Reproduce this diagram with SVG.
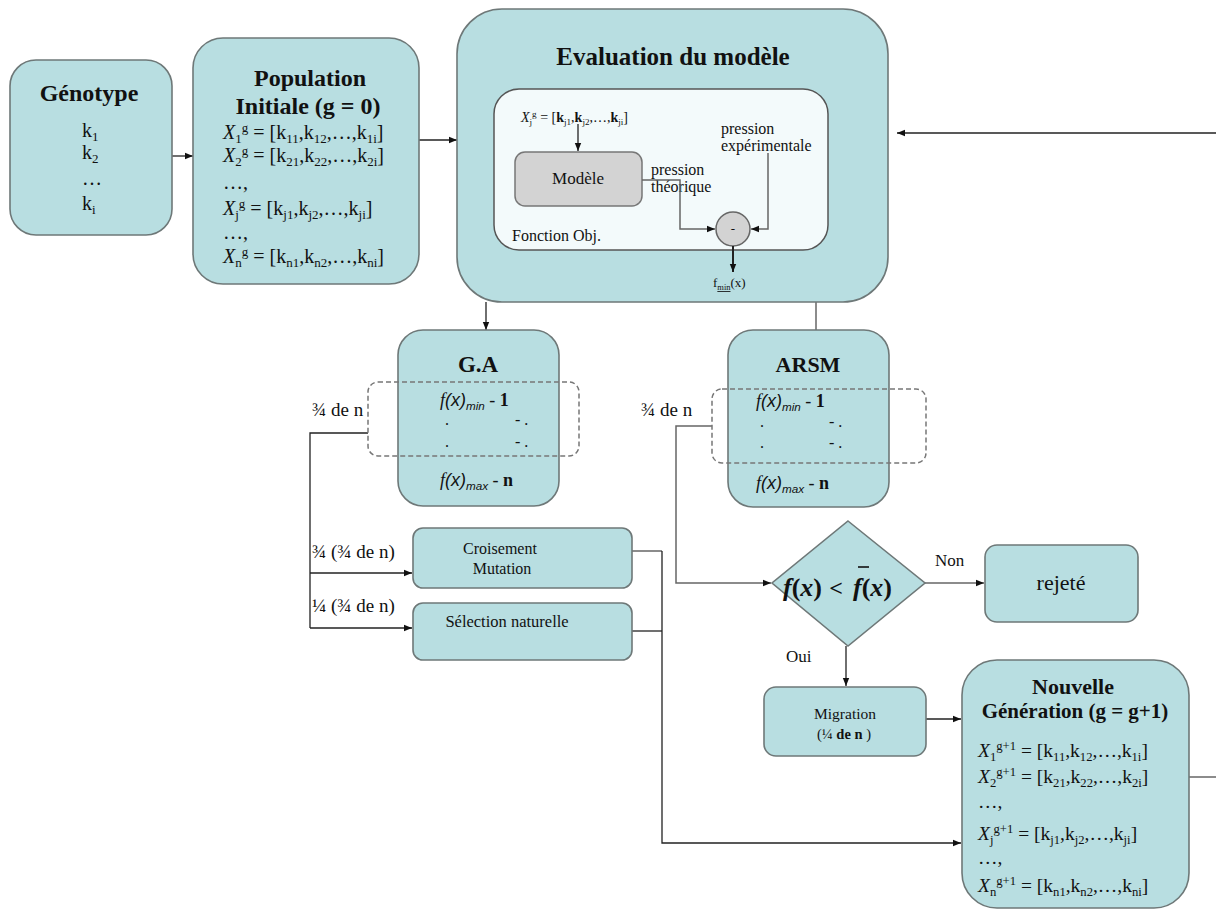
<svg xmlns="http://www.w3.org/2000/svg" width="1216" height="909" viewBox="0 0 1216 909">
<style>
.box{fill:#b8dee1;stroke:#6e7878;stroke-width:1.6}
.t{font-family:"Liberation Serif","DejaVu Serif",serif;fill:#111}
.b{font-weight:bold}
.i{font-style:italic}
.ln{fill:none;stroke:#222;stroke-width:1.3}
.lg{fill:none;stroke:#666;stroke-width:1.5}
.dash{fill:none;stroke:#777;stroke-width:1.5;stroke-dasharray:5 3}
.sb{font-size:0.65em}
</style>
<defs>
<marker id="ah" viewBox="0 0 10 10" refX="10" refY="5" markerWidth="8" markerHeight="8" orient="auto" markerUnits="userSpaceOnUse"><path d="M0,1 L10,5 L0,9 z" fill="#111"/></marker>
</defs>
<rect width="1216" height="909" fill="#fff"/>

<g id="connectors">
<path class="ln" d="M172,156 H193" marker-end="url(#ah)"/>
<path class="ln" d="M419,140 H457" marker-end="url(#ah)"/>
<path class="ln" d="M1216,133 H897" marker-end="url(#ah)"/>
<path class="ln" d="M486,302 V330" marker-end="url(#ah)"/>
<path class="lg" d="M816,302 V331"/>
<path class="ln" d="M368,433 H310 V628"/>
<path class="ln" d="M310,573 H412" marker-end="url(#ah)"/>
<path class="ln" d="M310,628 H412" marker-end="url(#ah)"/>
<path class="lg" d="M712,426 H676 V583 H771" marker-end="url(#ah)"/>
<path class="lg" d="M632,551 H662"/>
<path class="ln" d="M632,631 H662"/>
<path class="ln" d="M662,551 V843 H961" marker-end="url(#ah)"/>
<path class="lg" d="M925,583 H984" marker-end="url(#ah)"/>
<path class="ln" d="M846,646 V686" marker-end="url(#ah)"/>
<path class="ln" d="M926,719 H961" marker-end="url(#ah)"/>
<path class="lg" d="M1189,777 H1216"/>
<text class="t" x="312" y="416" font-size="19">¾ de n</text>
<text class="t" x="641" y="416" font-size="19">¾ de n</text>
<text class="t" x="312" y="558" font-size="19">¾ (¾ de n)</text>
<text class="t" x="312" y="612" font-size="19">¼ (¾ de n)</text>
<text class="t" x="935" y="566" font-size="17">Non</text>
<text class="t" x="786" y="662" font-size="17">Oui</text>
</g>

<g id="genotype">
<rect class="box" x="10" y="60" width="162" height="175" rx="26"/>
<text class="t b" x="89" y="101" font-size="24" text-anchor="middle">Génotype</text>
<text class="t" x="82" y="137" font-size="20">k<tspan dy="4" class="sb">1</tspan></text>
<text class="t" x="82" y="159" font-size="20">k<tspan dy="4" class="sb">2</tspan></text>
<text class="t" x="82" y="185" font-size="20">…</text>
<text class="t" x="82" y="210" font-size="20">k<tspan dy="4" class="sb">i</tspan></text>
</g>

<g id="population">
<rect class="box" x="193" y="38" width="226" height="246" rx="30"/>
<text class="t b" x="310" y="86" font-size="24" text-anchor="middle">Population</text>
<text class="t b" x="308" y="114" font-size="24" text-anchor="middle">Initiale (g = 0)</text>
<text class="t" x="223" y="139" font-size="20"><tspan class="i">X</tspan><tspan dy="4" class="sb">1</tspan><tspan dy="-11" class="sb">g</tspan><tspan dy="7">  = [k</tspan><tspan dy="4" class="sb">11</tspan><tspan dy="-4">,k</tspan><tspan dy="4" class="sb">12</tspan><tspan dy="-4">,…,k</tspan><tspan dy="4" class="sb">1i</tspan><tspan dy="-4">]</tspan></text>
<text class="t" x="223" y="162" font-size="20"><tspan class="i">X</tspan><tspan dy="4" class="sb">2</tspan><tspan dy="-11" class="sb">g</tspan><tspan dy="7">  = [k</tspan><tspan dy="4" class="sb">21</tspan><tspan dy="-4">,k</tspan><tspan dy="4" class="sb">22</tspan><tspan dy="-4">,…,k</tspan><tspan dy="4" class="sb">2i</tspan><tspan dy="-4">]</tspan></text>
<text class="t" x="223" y="189" font-size="20">…,</text>
<text class="t" x="223" y="215" font-size="20"><tspan class="i">X</tspan><tspan dy="4" class="sb">j</tspan><tspan dy="-11" class="sb">g</tspan><tspan dy="7"> = [k</tspan><tspan dy="4" class="sb">j1</tspan><tspan dy="-4">,k</tspan><tspan dy="4" class="sb">j2</tspan><tspan dy="-4">,…,k</tspan><tspan dy="4" class="sb">ji</tspan><tspan dy="-4">]</tspan></text>
<text class="t" x="223" y="239" font-size="20">…,</text>
<text class="t" x="223" y="263" font-size="20"><tspan class="i">X</tspan><tspan dy="4" class="sb">n</tspan><tspan dy="-11" class="sb">g</tspan><tspan dy="7"> = [k</tspan><tspan dy="4" class="sb">n1</tspan><tspan dy="-4">,k</tspan><tspan dy="4" class="sb">n2</tspan><tspan dy="-4">,…,k</tspan><tspan dy="4" class="sb">ni</tspan><tspan dy="-4">]</tspan></text>
</g>

<g id="evaluation">
<rect class="box" x="457" y="9" width="431" height="293" rx="45"/>
<text class="t b" x="673" y="65" font-size="25" text-anchor="middle">Evaluation du modèle</text>
<rect x="494" y="89" width="334" height="161" rx="25" fill="#f3fafb" stroke="#555" stroke-width="1.5"/>
<text class="t" x="521" y="122" font-size="14"><tspan class="i">X</tspan><tspan dy="3" class="sb">j</tspan><tspan dy="-8" class="sb">g</tspan><tspan dy="5"> = [</tspan><tspan class="b">k</tspan><tspan dy="3" class="sb">j1</tspan><tspan dy="-3">,</tspan><tspan class="b">k</tspan><tspan dy="3" class="sb">j2</tspan><tspan dy="-3">,…,</tspan><tspan class="b">k</tspan><tspan dy="3" class="sb">ji</tspan><tspan dy="-3">]</tspan></text>
<path class="ln" d="M578,124 V151" marker-end="url(#ah)"/>
<rect x="515" y="152" width="127" height="54" rx="10" fill="#d3d3d3" stroke="#777" stroke-width="1.5"/>
<text class="t" x="578" y="184" font-size="17" text-anchor="middle">Modèle</text>
<text class="t" x="651" y="175" font-size="16">pression</text>
<text class="t" x="651" y="192" font-size="16">théorique</text>
<text class="t" x="721" y="134" font-size="16">pression</text>
<text class="t" x="721" y="151" font-size="16">expérimentale</text>
<path class="lg" d="M642,180 H680 V229 H715" marker-end="url(#ah)"/>
<path class="lg" d="M768,153 V229 H751" marker-end="url(#ah)"/>
<circle cx="733" cy="229" r="17" fill="#d3d3d3" stroke="#666" stroke-width="1.5"/>
<text class="t" x="733" y="233" font-size="13" text-anchor="middle">-</text>
<text class="t" x="512" y="241" font-size="16">Fonction Obj.</text>
<path d="M733,246 V272" fill="none" stroke="#222" stroke-width="2" marker-end="url(#ah)"/>
<text class="t" x="713" y="287" font-size="13">f<tspan dy="3" class="sb" text-decoration="underline">min</tspan><tspan dy="-3">(x)</tspan></text>
</g>

<g id="ga">
<rect class="box" x="398" y="330" width="161" height="176" rx="25"/>
<text class="t b" x="478" y="372" font-size="23" text-anchor="middle">G.A</text>
<rect class="dash" x="368" y="382" width="211" height="74" rx="10"/>
<text class="t" x="440" y="406" font-size="18"><tspan class="i">f</tspan><tspan class="i" font-family="Liberation Sans, sans-serif">(x)</tspan><tspan dy="4" class="sb i" font-family="Liberation Sans, sans-serif">min</tspan><tspan dy="-4"> - </tspan><tspan class="b">1</tspan></text>
<text class="t" x="445" y="425" font-size="16">.</text>
<text class="t" x="445" y="447" font-size="16">.</text>
<text class="t" x="515" y="425" font-size="16">- .</text>
<text class="t" x="515" y="447" font-size="16">- .</text>
<text class="t" x="440" y="486" font-size="18"><tspan class="i">f</tspan><tspan class="i" font-family="Liberation Sans, sans-serif">(x)</tspan><tspan dy="4" class="sb i" font-family="Liberation Sans, sans-serif">max</tspan><tspan dy="-4"> - </tspan><tspan class="b">n</tspan></text>
</g>

<g id="arsm">
<rect class="box" x="728" y="330" width="161" height="177" rx="25"/>
<text class="t b" x="808" y="372" font-size="22" text-anchor="middle">ARSM</text>
<rect class="dash" x="712" y="389" width="214" height="74" rx="10"/>
<text class="t" x="756" y="407" font-size="18"><tspan class="i">f</tspan><tspan class="i" font-family="Liberation Sans, sans-serif">(x)</tspan><tspan dy="4" class="sb i" font-family="Liberation Sans, sans-serif">min</tspan><tspan dy="-4"> - </tspan><tspan class="b">1</tspan></text>
<text class="t" x="760" y="427" font-size="16">.</text>
<text class="t" x="760" y="448" font-size="16">.</text>
<text class="t" x="829" y="427" font-size="16">- .</text>
<text class="t" x="829" y="448" font-size="16">- .</text>
<text class="t" x="756" y="489" font-size="18"><tspan class="i">f</tspan><tspan class="i" font-family="Liberation Sans, sans-serif">(x)</tspan><tspan dy="4" class="sb i" font-family="Liberation Sans, sans-serif">max</tspan><tspan dy="-4"> - </tspan><tspan class="b">n</tspan></text>
</g>

<g id="croisement">
<rect class="box" x="413" y="528" width="219" height="60" rx="10"/>
<text class="t" x="500" y="554" font-size="16" text-anchor="middle">Croisement</text>
<text class="t" x="502" y="574" font-size="16" text-anchor="middle">Mutation</text>
</g>

<g id="selection">
<rect class="box" x="413" y="603" width="219" height="57" rx="10"/>
<text class="t" x="507" y="627" font-size="16.5" text-anchor="middle">Sélection naturelle</text>
</g>

<g id="decision">
<polygon class="box" points="848,521 925,583 848,646 772,583"/>
<text class="t b" x="783" y="596" font-size="26"><tspan class="i">f</tspan>(<tspan class="i">x</tspan>)</text>
<text class="t b" x="836" y="596" font-size="24" text-anchor="middle">&lt;</text>
<text class="t b" x="853" y="596" font-size="26"><tspan class="i">f</tspan>(<tspan class="i">x</tspan>)</text>
<path d="M858,567 H869" stroke="#111" stroke-width="1.6"/>
</g>

<g id="rejete">
<rect class="box" x="985" y="545" width="153" height="77" rx="12"/>
<text class="t" x="1061" y="590" font-size="22" text-anchor="middle">rejeté</text>
</g>

<g id="migration">
<rect class="box" x="764" y="687" width="162" height="69" rx="12"/>
<text class="t" x="845" y="719" font-size="15.5" text-anchor="middle">Migration</text>
<text class="t" x="844" y="739" font-size="14.5" text-anchor="middle">(¼ <tspan class="b">de n</tspan> )</text>
</g>

<g id="nouvelle">
<rect class="box" x="962" y="660" width="227" height="248" rx="35"/>
<text class="t b" x="1073" y="694" font-size="22" text-anchor="middle">Nouvelle</text>
<text class="t b" x="1075" y="718" font-size="21" text-anchor="middle">Génération (g = g+1)</text>
<text class="t" x="978" y="757" font-size="19.5"><tspan class="i">X</tspan><tspan dy="4" class="sb">1</tspan><tspan dy="-11" class="sb">g+1</tspan><tspan dy="7">  = [k</tspan><tspan dy="4" class="sb">11</tspan><tspan dy="-4">,k</tspan><tspan dy="4" class="sb">12</tspan><tspan dy="-4">,…,k</tspan><tspan dy="4" class="sb">1i</tspan><tspan dy="-4">]</tspan></text>
<text class="t" x="978" y="783" font-size="19.5"><tspan class="i">X</tspan><tspan dy="4" class="sb">2</tspan><tspan dy="-11" class="sb">g+1</tspan><tspan dy="7"> = [k</tspan><tspan dy="4" class="sb">21</tspan><tspan dy="-4">,k</tspan><tspan dy="4" class="sb">22</tspan><tspan dy="-4">,…,k</tspan><tspan dy="4" class="sb">2i</tspan><tspan dy="-4">]</tspan></text>
<text class="t" x="978" y="808" font-size="19.5">…,</text>
<text class="t" x="978" y="840" font-size="19.5"><tspan class="i">X</tspan><tspan dy="4" class="sb">j</tspan><tspan dy="-11" class="sb">g+1</tspan><tspan dy="7"> = [k</tspan><tspan dy="4" class="sb">j1</tspan><tspan dy="-4">,k</tspan><tspan dy="4" class="sb">j2</tspan><tspan dy="-4">,…,k</tspan><tspan dy="4" class="sb">ji</tspan><tspan dy="-4">]</tspan></text>
<text class="t" x="978" y="864" font-size="19.5">…,</text>
<text class="t" x="978" y="892" font-size="19.5"><tspan class="i">X</tspan><tspan dy="4" class="sb">n</tspan><tspan dy="-11" class="sb">g+1</tspan><tspan dy="7"> = [k</tspan><tspan dy="4" class="sb">n1</tspan><tspan dy="-4">,k</tspan><tspan dy="4" class="sb">n2</tspan><tspan dy="-4">,…,k</tspan><tspan dy="4" class="sb">ni</tspan><tspan dy="-4">]</tspan></text>
</g>
</svg>
